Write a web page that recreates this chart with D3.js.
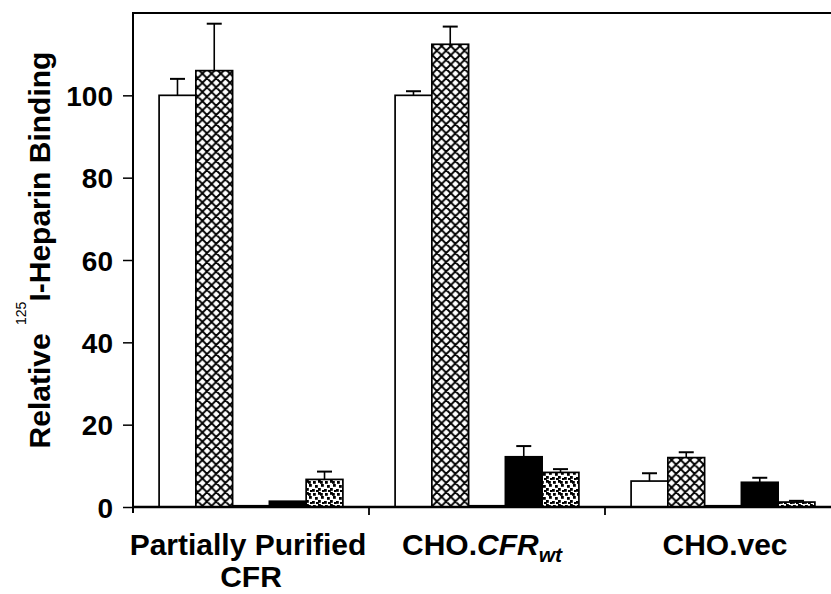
<!DOCTYPE html>
<html>
<head>
<meta charset="utf-8">
<script src="https://cdn.jsdelivr.net/npm/d3@7"></script>
<style>
  body { margin: 0; background: #fff; }
  svg { display: block; font-family: "Liberation Sans", Arial, sans-serif; font-weight: bold; }
</style>
</head>
<body>
<svg id="chart" width="831" height="594"></svg>
<script>
// groups along the x axis
const groups = ["Partially Purified CFR", "CHO.CFRwt", "CHO.vec"];
// five bars per group, told apart by their fill only (no legend in the figure)
const series = ["open", "crosshatch", "hatched", "solid", "stippled"];

const openVals = [100, 100, 6.3];
const crossVals = [106, 112.4, 12.0];
const hatchedVals = [0.3, 0.3, 0.3];
const solidVals = [1.4, 12.2, 6.0];
const stippledVals = [6.7, 8.4, 1.2];

const openErr = [4, 1, 1.9];
const crossErr = [11.4, 4.3, 1.3];
const hatchedErr = [0, 0, 0];
const solidErr = [0, 2.6, 1.1];
const stippledErr = [1.9, 0.8, 0.3];

const yTicks = [0, 20, 40, 60, 80, 100];

const seriesVals = [openVals, crossVals, hatchedVals, solidVals, stippledVals];
const seriesErr = [openErr, crossErr, hatchedErr, solidErr, stippledErr];

const svg = d3.select("#chart");
const plotLeft = 133, plotTop = 13, plotBottom = 507, plotRight = 841;

const x0 = d3.scaleBand().domain(groups).range([plotLeft, plotRight]).padding(0);
const x1 = d3.scaleBand().domain(series).range([0, x0.bandwidth()])
    .paddingInner(0).paddingOuter(0.71);
const y = d3.scaleLinear().domain([0, 120]).range([plotBottom, plotTop]);

// --- fill patterns ---
const defs = svg.append("defs");
const cross = defs.append("pattern").attr("id", "pat-cross")
    .attr("patternUnits", "userSpaceOnUse").attr("width", 9.2).attr("height", 9.2);
cross.append("rect").attr("width", 9.2).attr("height", 9.2).attr("fill", "#fff");
cross.append("path").attr("d", "M0,0L9.2,9.2M9.2,0L0,9.2M-1,8.2L1,10.2M8.2,-1L10.2,1M-1,1L1,-1M8.2,10.2L10.2,8.2")
    .attr("stroke", "#000").attr("stroke-width", 1.9);

const dots = defs.append("pattern").attr("id", "pat-dots")
    .attr("patternUnits", "userSpaceOnUse").attr("width", 12).attr("height", 12);
dots.append("rect").attr("width", 12).attr("height", 12).attr("fill", "#fff");
[[1, 1], [6, 0], [9, 4], [3, 5], [0, 9], [6, 8], [10, 10], [4, 10], [8, 1]].forEach(p => {
    dots.append("rect").attr("x", p[0]).attr("y", p[1])
        .attr("width", 2.8).attr("height", 2.8).attr("fill", "#000");
});

const fills = new Map([
    ["open", "#fff"],
    ["crosshatch", "url(#pat-cross)"],
    ["hatched", "#000"],
    ["solid", "#000"],
    ["stippled", "url(#pat-dots)"]
]);

// flat list of bars
const bars = [];
groups.forEach((g, gi) => {
    series.forEach((s, si) => {
        bars.push({ group: g, series: s, value: seriesVals[si][gi], err: seriesErr[si][gi] });
    });
});

const barG = svg.append("g");

// error bars (drawn first so the bar outline sits on top)
bars.filter(d => d.err > 0).forEach(d => {
    const cx = x0(d.group) + x1(d.series) + x1.bandwidth() / 2;
    barG.append("line")
        .attr("x1", cx).attr("x2", cx)
        .attr("y1", y(d.value)).attr("y2", y(d.value + d.err))
        .attr("stroke", "#000").attr("stroke-width", 1.6);
    barG.append("line")
        .attr("x1", cx - 7.5).attr("x2", cx + 7.5)
        .attr("y1", y(d.value + d.err)).attr("y2", y(d.value + d.err))
        .attr("stroke", "#000").attr("stroke-width", 2);
});

barG.selectAll("rect.bar")
    .data(bars)
    .enter().append("rect")
    .attr("class", "bar")
    .attr("x", d => x0(d.group) + x1(d.series))
    .attr("width", x1.bandwidth())
    .attr("y", d => y(d.value))
    .attr("height", d => y(0) - y(d.value))
    .attr("fill", d => fills.get(d.series))
    .attr("stroke", "#000")
    .attr("stroke-width", 1.7);

// --- frame and axes ---
svg.append("line").attr("x1", plotLeft).attr("x2", 831).attr("y1", plotTop).attr("y2", plotTop)
    .attr("stroke", "#000").attr("stroke-width", 2.2);

const yAxis = svg.append("g")
    .attr("transform", `translate(${plotLeft},0)`)
    .call(d3.axisLeft(y).tickValues(yTicks).tickSize(10).tickPadding(10));
yAxis.select(".domain").remove();
yAxis.selectAll(".tick line").attr("stroke-width", 1.5);
yAxis.selectAll(".tick text")
    .attr("font-size", 28).attr("font-family", "Liberation Sans, Arial, sans-serif")
    .attr("font-weight", "bold").attr("fill", "#000").attr("dy", "0.36em");

svg.append("line").attr("x1", plotLeft).attr("x2", plotLeft).attr("y1", plotTop - 1).attr("y2", plotBottom + 6)
    .attr("stroke", "#000").attr("stroke-width", 2);
svg.append("line").attr("x1", plotLeft - 1).attr("x2", 831).attr("y1", plotBottom).attr("y2", plotBottom)
    .attr("stroke", "#000").attr("stroke-width", 2.5);

// group boundary ticks below the x axis
groups.slice(1).forEach(g => {
    svg.append("line").attr("x1", x0(g)).attr("x2", x0(g))
        .attr("y1", plotBottom).attr("y2", plotBottom + 8)
        .attr("stroke", "#000").attr("stroke-width", 1.8);
});

// --- x labels ---
const cx = g => x0(g) + x0.bandwidth() / 2;
const lab = svg.append("g").attr("font-size", 30).attr("text-anchor", "middle").attr("fill", "#000");

lab.append("text").attr("x", cx(groups[0]) - 3).attr("y", 555).text("Partially Purified");
lab.append("text").attr("x", cx(groups[0])).attr("y", 587).text("CFR");

const t2 = lab.append("text").attr("x", cx(groups[1]) - 5).attr("y", 555);
t2.append("tspan").text("CHO.");
t2.append("tspan").attr("font-style", "italic").text("CFR");
t2.append("tspan").attr("font-style", "italic").attr("font-size", 21).attr("dy", 7).text("wt");

lab.append("text").attr("x", cx(groups[2]) + 2).attr("y", 555).text("CHO.vec");

// --- y title ---
const yt = svg.append("text")
    .attr("transform", "translate(50,250) rotate(-90)")
    .attr("text-anchor", "middle").attr("font-size", 30).attr("fill", "#000");
yt.append("tspan").text("Relative ");
yt.append("tspan").attr("font-size", 14).attr("font-weight", "normal").attr("dy", -24).text("125");
yt.append("tspan").attr("dy", 24).text("I-Heparin Binding");
</script>
</body>
</html>
